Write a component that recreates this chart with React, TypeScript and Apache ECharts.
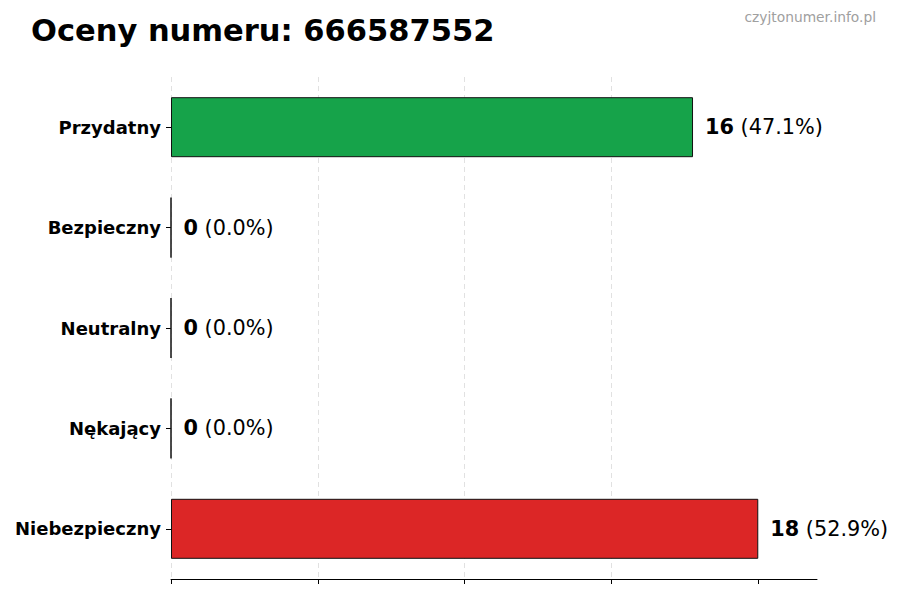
import React, { useEffect, useRef } from "react";
import * as echarts from "echarts";

// dane wykresu
const categories = ["Przydatny", "Bezpieczny", "Neutralny", "Nękający", "Niebezpieczny"];
const counts = [16, 0, 0, 0, 18];
const barColors = ["#16a34a", "#16a34a", "#9ca3af", "#dc2626", "#dc2626"];
const xTicks = [0, 4.5, 9, 13.5, 18];
const phoneNumber = "666587552";

const total = counts.reduce((a, b) => a + b, 0);

const App: React.FC = () => {
  const chartRef = useRef<HTMLDivElement | null>(null);

  useEffect(() => {
    if (!chartRef.current) return;
    const chart = echarts.init(chartRef.current, null, { renderer: "svg" });

    const option = {
      animation: false,
      backgroundColor: "#ffffff",
      textStyle: { fontFamily: "DejaVu Sans" },
      grid: { left: 171, right: 83, top: 77, bottom: 21 },
      graphic: [
        {
          type: "text",
          left: 31,
          top: 15,
          style: {
            text: "Oceny numeru: " + phoneNumber,
            font: "bold 30.5px 'DejaVu Sans'",
            fill: "#000",
          },
        },
        {
          type: "text",
          right: 24,
          top: 10,
          style: {
            text: "czyjtonumer.info.pl",
            font: "13.8px 'DejaVu Sans'",
            fill: "#a0a0a0",
          },
        },
      ],
      xAxis: {
        type: "value",
        min: 0,
        max: Math.max(...counts) * 1.1,
        interval: 4.5,
        axisLabel: { show: false },
        axisLine: { show: true, lineStyle: { color: "#000", width: 1 } },
        axisTick: { show: true, length: 5, customValues: xTicks, lineStyle: { color: "#000" } },
        splitLine: {
          show: true,
          showMaxLine: false,
          lineStyle: { color: "#d9d9d9", type: [5, 4], width: 0.8 },
        },
      },
      yAxis: {
        type: "category",
        inverse: true,
        data: categories,
        axisLine: { show: false },
        axisTick: { show: true, alignWithLabel: true, length: 5, lineStyle: { color: "#000" } },
        axisLabel: {
          fontFamily: "DejaVu Sans",
          fontWeight: "bold",
          fontSize: 18,
          color: "#000",
          margin: 10,
        },
      },
      series: [
        {
          type: "bar",
          barWidth: 60,
          data: counts.map((v, i) => ({
            value: v,
            itemStyle: { color: barColors[i] },
          })),
          itemStyle: { borderColor: "#111", borderWidth: 1 },
          label: {
            show: true,
            position: "right",
            distance: 12,
            formatter: (p: any) =>
              `{b|${p.value}}{n| (${((p.value / total) * 100).toFixed(1)}%)}`,
            rich: {
              b: { fontFamily: "DejaVu Sans", fontWeight: "bold", fontSize: 20.8, color: "#000" },
              n: { fontFamily: "DejaVu Sans", fontSize: 20.8, color: "#000" },
            },
          },
        },
      ],
    };

    chart.setOption(option);
    return () => {
      chart.dispose();
    };
  }, []);

  return (
    <div
      ref={chartRef}
      style={{ position: "fixed", left: 0, top: 0, width: "900px", height: "600px" }}
    />
  );
};

export default App;
